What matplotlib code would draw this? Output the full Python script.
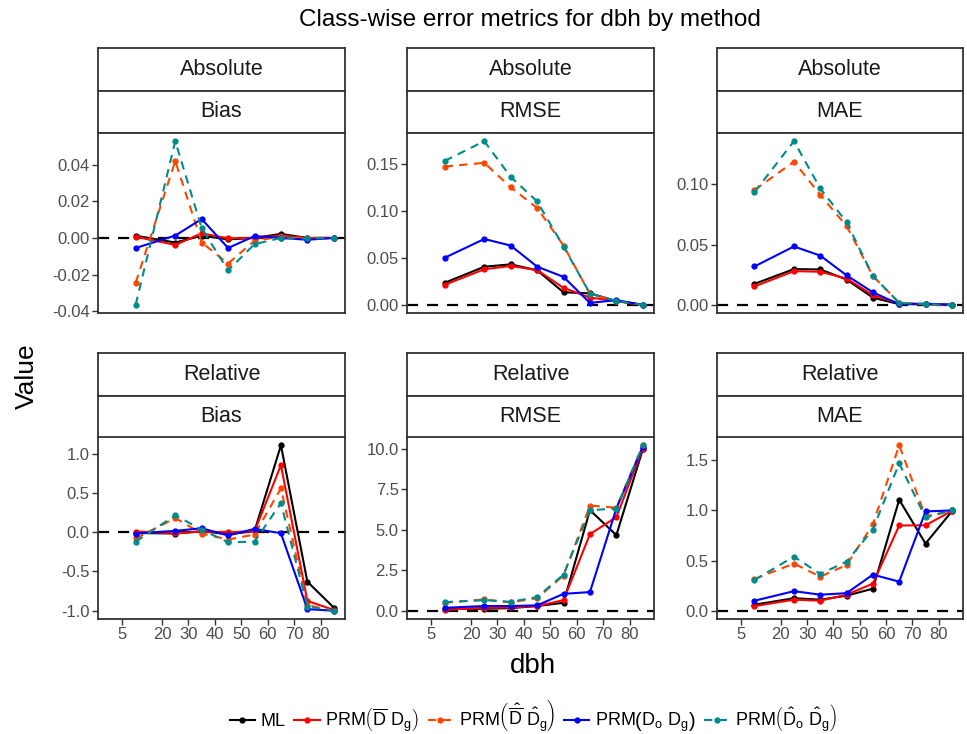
import matplotlib.pyplot as plt
import numpy as np
from matplotlib.lines import Line2D
from matplotlib.ticker import FormatStrFormatter

plt.rcParams['font.family'] = ['Liberation Sans', 'DejaVu Sans']
plt.rcParams['axes.unicode_minus'] = False
plt.rcParams['mathtext.fontset'] = 'custom'
plt.rcParams['mathtext.rm'] = 'Liberation Sans'
plt.rcParams['mathtext.it'] = 'Liberation Sans:italic'
plt.rcParams['mathtext.default'] = 'regular'

# dbh class midpoints
dbh = [10, 25, 35, 45, 55, 65, 75, 85]

methods = ['ML',
           r'PRM$\left(\overline{D}\ D_g\right)$',
           r'PRM$\left(\hat{\overline{D}}\ \hat{D}_g\right)$',
           r'PRM$\left(D_o\ D_g\right)$',
           r'PRM$\left(\hat{D}_o\ \hat{D}_g\right)$']
colors = ['black', '#FF0000', '#FF4500', '#0000FF', '#008B8B']
styles = ['-', '-', (0, (4, 3)), '-', (0, (4, 3))]

# rows: ML, PRM(Dbar Dg), PRM(hat Dbar hat Dg), PRM(Do Dg), PRM(hat Do hat Dg)
abs_bias = [
    [0.0012, -0.0025, 0.0012, -0.0008, 0.0, 0.0022, 0.0, 0.0],
    [0.0007, -0.0038, 0.0025, -0.0002, 0.0, 0.0013, 0.0, 0.0],
    [-0.0245, 0.0420, -0.0025, -0.0140, -0.0015, 0.0007, -0.0003, 0.0],
    [-0.0055, 0.0013, 0.0103, -0.0055, 0.0010, 0.0, -0.0010, 0.0],
    [-0.0365, 0.0528, 0.0053, -0.0177, -0.0034, 0.0, -0.0003, 0.0],
]
abs_rmse = [
    [0.0234, 0.0405, 0.0430, 0.0367, 0.0133, 0.0122, 0.004, 0.0],
    [0.0213, 0.0378, 0.0413, 0.0370, 0.0180, 0.0077, 0.004, 0.0],
    [0.147, 0.151, 0.125, 0.103, 0.063, 0.0115, 0.004, 0.0],
    [0.050, 0.070, 0.063, 0.0406, 0.0297, 0.002, 0.005, 0.0],
    [0.153, 0.174, 0.136, 0.110, 0.062, 0.012, 0.004, 0.0],
]
abs_mae = [
    [0.0174, 0.0297, 0.0294, 0.021, 0.006, 0.0005, 0.0005, 0.0],
    [0.0153, 0.028, 0.0275, 0.0218, 0.008, 0.001, 0.0005, 0.0],
    [0.0954, 0.119, 0.0913, 0.0654, 0.024, 0.0016, 0.0005, 0.0],
    [0.0319, 0.0485, 0.0409, 0.0245, 0.0104, 0.0005, 0.001, 0.0],
    [0.0937, 0.136, 0.0967, 0.0687, 0.024, 0.0016, 0.0005, 0.0],
]
rel_bias = [
    [-0.01, -0.017, 0.013, -0.025, 0.013, 1.107, -0.63, -0.96],
    [0.008, -0.015, 0.008, 0.0, 0.01, 0.854, -0.875, -0.99],
    [-0.08, 0.18, -0.017, -0.093, -0.03, 0.558, -0.93, -1.0],
    [-0.017, 0.017, 0.05, -0.042, 0.042, -0.013, -0.98, -1.0],
    [-0.12, 0.215, 0.034, -0.13, -0.12, 0.37, -0.947, -1.0],
]
rel_rmse = [
    [0.12, 0.12, 0.16, 0.29, 0.49, 6.2, 4.66, 9.94],
    [0.06, 0.18, 0.2, 0.29, 0.65, 4.72, 5.77, 10.0],
    [0.49, 0.7, 0.51, 0.78, 2.17, 6.48, 6.35, 10.2],
    [0.18, 0.29, 0.29, 0.33, 1.04, 1.15, 6.3, 10.1],
    [0.53, 0.65, 0.55, 0.84, 2.23, 6.2, 6.3, 10.2],
]
rel_mae = [
    [0.06, 0.125, 0.11, 0.15, 0.22, 1.107, 0.67, 0.99],
    [0.046, 0.11, 0.10, 0.16, 0.27, 0.85, 0.852, 0.995],
    [0.317, 0.47, 0.34, 0.456, 0.86, 1.65, 0.94, 1.0],
    [0.10, 0.195, 0.16, 0.175, 0.36, 0.29, 0.99, 1.0],
    [0.307, 0.54, 0.367, 0.49, 0.81, 1.47, 0.93, 1.0],
]

panels = [
    ('Absolute', 'Bias', abs_bias, [-0.04, -0.02, 0.0, 0.02, 0.04], '%.2f'),
    ('Absolute', 'RMSE', abs_rmse, [0.0, 0.05, 0.10, 0.15], '%.2f'),
    ('Absolute', 'MAE', abs_mae, [0.0, 0.05, 0.10], '%.2f'),
    ('Relative', 'Bias', rel_bias, [-1.0, -0.5, 0.0, 0.5, 1.0], '%.1f'),
    ('Relative', 'RMSE', rel_rmse, [0.0, 2.5, 5.0, 7.5, 10.0], '%.1f'),
    ('Relative', 'MAE', rel_mae, [0.0, 0.5, 1.0, 1.5], '%.1f'),
]
xticks = [5, 20, 30, 40, 50, 60, 70, 80]

W, H = 967, 734
fig = plt.figure(figsize=(W / 100, H / 100), dpi=100)


def box(x0, y0, x1, y1):
    return [x0 / W, 1 - y1 / H, (x1 - x0) / W, (y1 - y0) / H]


cols = [(98, 345), (407, 654), (717, 963)]
rows = [(48, 133, 313), (353, 437, 619)]  # strip top, panel top, panel bottom
edge = '#333333'

for i, (typ, metric, vals, yt, fmt) in enumerate(panels):
    x0, x1 = cols[i % 3]
    st, pt, pb = rows[i // 3]

    # two strips
    for j, lab in enumerate([typ, metric]):
        sax = fig.add_axes(box(x0, st + j * 42.5, x1, st + (j + 1) * 42.5))
        sax.set_xticks([])
        sax.set_yticks([])
        for s in sax.spines.values():
            s.set_color(edge)
            s.set_linewidth(1.3)
        sax.text(0.5, 0.5, lab, ha='center', va='center', fontsize=15.5, color='#1A1A1A')

    ax = fig.add_axes(box(x0, pt, x1, pb))
    ax.axhline(0, color='black', lw=1.6, ls=(0, (5, 4)), zorder=1)
    for k in range(5):
        ax.plot(dbh, vals[k], color=colors[k], ls=styles[k], lw=1.5,
                marker='o', ms=3.5, zorder=2 + k)
    arr = np.array(vals)
    lo, hi = min(0, arr.min()), max(0, arr.max())
    pad = 0.05 * (hi - lo)
    ax.set_ylim(lo - pad, hi + pad)
    ax.set_xlim(-4.25, 89.25)
    ax.set_xticks(xticks)
    ax.set_yticks(yt)
    ax.yaxis.set_major_formatter(FormatStrFormatter(fmt))
    if i < 3:
        ax.tick_params(axis='x', bottom=False, labelbottom=False)
    ax.tick_params(length=4, width=1, color=edge, labelcolor='#4D4D4D',
                   labelsize=12, pad=2)
    for s in ax.spines.values():
        s.set_color(edge)
        s.set_linewidth(1.3)

fig.text(530 / W, 1 - 20 / H, 'Class-wise error metrics for dbh by method',
         ha='center', va='center', fontsize=17.5, color='black')
fig.text(27 / W, 1 - 376 / H, 'Value', rotation=90, ha='center', va='center',
         fontsize=19, color='black')
fig.text(533 / W, 1 - 666 / H, 'dbh', ha='center', va='center', fontsize=20, color='black')

handles = [Line2D([], [], color=colors[k], ls=styles[k], lw=1.5, marker='o', ms=3.5)
           for k in range(5)]
fig.legend(handles, methods, loc='center', bbox_to_anchor=(533 / W, 1 - 716 / H),
           ncol=5, frameon=False, fontsize=13, handlelength=1.4, handletextpad=0.3,
           columnspacing=0.5)

fig.savefig('out.png', dpi=100)
